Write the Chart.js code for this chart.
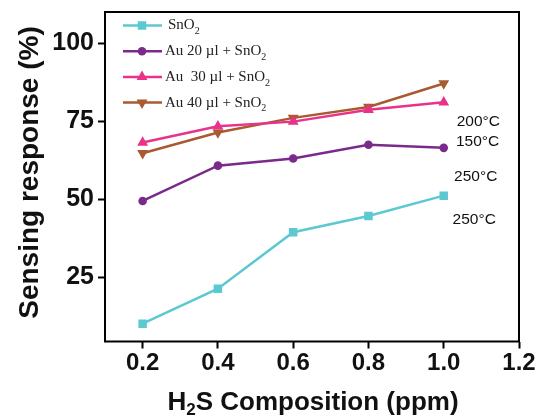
<!DOCTYPE html>
<html>
<head>
<meta charset="utf-8">
<script src="https://cdn.jsdelivr.net/npm/chart.js@4.4.0/dist/chart.umd.min.js"></script>
<style>
  html, body { margin: 0; padding: 0; background: #fff; }
  #wrap { width: 540px; height: 417px; }
</style>
</head>
<body>
<div id="wrap"><canvas id="myChart" width="540" height="417"></canvas></div>
<script>
// data
var ppm = [0.2, 0.4, 0.6, 0.8, 1.0];
var sno2 = [10.2, 21.4, 39.5, 44.7, 51.2];
var au20 = [49.5, 60.8, 63.1, 67.5, 66.5];
var au30 = [68.2, 73.4, 74.9, 78.7, 81.1];
var au40 = [64.8, 71.4, 76.1, 79.6, 87.1];
var xTicks = [0.2, 0.4, 0.6, 0.8, 1.0, 1.2];
var yTicks = [25, 50, 75, 100];
var tempLabels = [
  { text: '200\u00B0C', x: 1.092, y: 75.0 },
  { text: '150\u00B0C', x: 1.090, y: 68.4 },
  { text: '250\u00B0C', x: 1.085, y: 57.1 },
  { text: '250\u00B0C', x: 1.081, y: 43.4 }
];

function pts(arr) {
  return arr.map(function (v, i) { return { x: ppm[i], y: v }; });
}

var series = [
  { name: ['SnO', '2'], data: sno2, color: '#5cc8d2', style: 'rect', r: 6, rot: 0 },
  { name: ['Au 20 \u00B5l + SnO', '2'], data: au20, color: '#7a2a8a', style: 'circle', r: 4.3, rot: 0 },
  { name: ['Au  30 \u00B5l + SnO', '2'], data: au30, color: '#e9338a', style: 'triangle', r: 6.3, rot: 0 },
  { name: ['Au 40 \u00B5l + SnO', '2'], data: au40, color: '#a85a30', style: 'triangle', r: 6.3, rot: 180 }
];

var datasets = series.map(function (s) {
  return {
    label: s.name.join(''),
    data: pts(s.data),
    borderColor: s.color,
    backgroundColor: s.color,
    borderWidth: 2.5,
    pointStyle: s.style,
    pointRadius: s.r,
    pointRotation: s.rot,
    pointBorderWidth: 0,
    tension: 0
  };
});

var serif = '"Liberation Serif", "Times New Roman", serif';
var sans = '"Liberation Sans", Arial, sans-serif';

// frame, legend, labels, axis titles
var extras = {
  id: 'extras',
  afterDraw: function (chart) {
    var c = chart.ctx, a = chart.chartArea;
    var xs = chart.scales.x, ys = chart.scales.y;
    c.save();
    c.strokeStyle = '#000';
    c.lineWidth = 2;
    c.strokeRect(a.left, a.top, a.right - a.left, a.bottom - a.top);

    // legend
    c.textBaseline = 'middle';
    series.forEach(function (s, i) {
      var y = 25.5 + i * 25.7;
      c.strokeStyle = s.color;
      c.lineWidth = 2.5;
      c.beginPath();
      c.moveTo(123, y);
      c.lineTo(162, y);
      c.stroke();
      c.fillStyle = s.color;
      Chart.helpers.drawPoint(c, { pointStyle: s.style, radius: s.r, rotation: s.rot, borderWidth: 0 }, 142, y);
      c.fillStyle = '#222';
      c.font = '15px ' + serif;
      var tx = i === 0 ? 168 : 165;
      c.fillText(s.name[0], tx, y);
      tx += c.measureText(s.name[0]).width;
      c.font = '10px ' + serif;
      c.fillText(s.name[1], tx, y + 6);
    });

    // temperature labels
    c.font = '15.5px ' + sans;
    c.fillStyle = '#111';
    c.textAlign = 'center';
    tempLabels.forEach(function (t) {
      c.fillText(t.text, xs.getPixelForValue(t.x), ys.getPixelForValue(t.y));
    });

    // x title with subscript
    var big = 'bold 26px ' + sans;
    var small = 'bold 17px ' + sans;
    c.textAlign = 'left';
    c.textBaseline = 'alphabetic';
    c.font = big;
    var w1 = c.measureText('H').width;
    var w3 = c.measureText('S Composition (ppm)').width;
    c.font = small;
    var w2 = c.measureText('2').width;
    var x0 = 313 - (w1 + w2 + w3) / 2;
    var by = 410;
    c.font = big;
    c.fillText('H', x0, by);
    c.font = small;
    c.fillText('2', x0 + w1, by + 5);
    c.font = big;
    c.fillText('S Composition (ppm)', x0 + w1 + w2, by);

    // y title
    c.font = 'bold 28px ' + sans;
    c.translate(38, 172.5);
    c.rotate(-Math.PI / 2);
    c.textAlign = 'center';
    c.fillText('Sensing response (%)', 0, 0);
    c.restore();
  }
};

var config = {
  type: 'line',
  data: { datasets: datasets },
  options: {
    responsive: false,
    animation: false,
    layout: { padding: { top: 12, right: 21, left: 0, bottom: 0 } },
    plugins: { legend: { display: false }, tooltip: { enabled: false } },
    scales: {
      x: {
        type: 'linear',
        min: 0.1,
        max: 1.2,
        afterBuildTicks: function (ax) { ax.ticks = xTicks.map(function (v) { return { value: v }; }); },
        afterFit: function (ax) { ax.height = 75.5; ax.paddingLeft = 0; ax.paddingRight = 0; },
        grid: { drawOnChartArea: false, drawTicks: true, tickLength: 7, tickWidth: 2, tickColor: '#000' },
        border: { display: false },
        ticks: {
          color: '#111',
          padding: 0,
          maxRotation: 0,
          font: { family: sans, size: 24, weight: 'bold' },
          callback: function (v) { return Number(v).toFixed(1); }
        }
      },
      y: {
        type: 'linear',
        min: 4.5,
        max: 110,
        afterBuildTicks: function (ax) { ax.ticks = yTicks.map(function (v) { return { value: v }; }); },
        afterFit: function (ax) { ax.width = 105; ax.paddingTop = 0; ax.paddingBottom = 0; },
        grid: { drawOnChartArea: false, drawTicks: true, tickLength: 7, tickWidth: 2, tickColor: '#000' },
        border: { display: false },
        ticks: {
          color: '#111',
          padding: 4,
          font: { family: sans, size: 25, weight: 'bold' }
        }
      }
    }
  },
  plugins: [extras]
};

var ctx = document.getElementById('myChart').getContext('2d');
var myChart = new Chart(ctx, config);
</script>
</body>
</html>
